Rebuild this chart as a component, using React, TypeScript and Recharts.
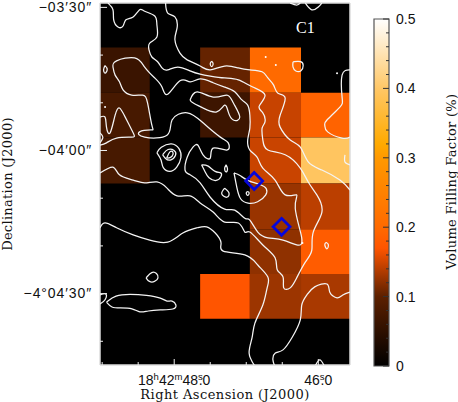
import { Bar, BarChart, CartesianGrid, ComposedChart, Label, ReferenceArea, ReferenceDot, Scatter, XAxis, YAxis } from 'recharts';

type Pair = [number, number];

// RA in seconds past 18h42m, Dec in arcsec relative to -4 deg
const raEdges = [49.04, 48.34, 47.64, 46.95, 46.24, 45.56];
const decEdges = [-218.4, -227.9, -237.3, -246.9, -256.5, -265.9, -275.3];

// volume filling factor, rows from north to south, columns from east to west
const fillRow1 = [0.063, null, 0.104, 0.2, null];
const fillRow2 = [0.077, null, 0.066, 0.146, 0.19];
const fillRow3 = [0.077, null, null, 0.147, 0.395];
const fillRow4 = [null, null, null, 0.126, 0.141];
const fillRow5 = [null, null, null, 0.122, 0.18];
const fillRow6 = [null, null, 0.17, 0.1275, 0.133];
const fillRows = [fillRow1, fillRow2, fillRow3, fillRow4, fillRow5, fillRow6];

const colorStops: [number, string][] = [
    [0, '#000000'],
    [0.1, '#5c2000'],
    [0.17, '#ff5500'],
    [0.2, '#ff6a00'],
    [0.3, '#ff9900'],
    [0.32, '#ffaa00'],
    [0.4, '#ffc766'],
    [0.5, '#ffffff'],
];

const contourA: Pair[] = [[48.92,-209.1],[48.85,-210.5],[48.84,-212.6],[48.78,-214.1],[48.71,-213.9],[48.67,-212.6],[48.57,-212.0],[48.48,-210.5],[48.41,-210.8],[48.27,-211.8],[48.24,-213.7],[48.24,-216.2],[48.34,-217.5],[48.35,-218.9],[48.31,-220.4],[48.23,-221.4],[48.17,-222.7],[48.09,-223.1],[47.95,-222.5],[47.78,-223.3],[47.64,-224.0],[47.50,-224.4],[47.30,-224.8],[47.11,-225.2],[46.91,-226.7],[46.74,-228.4],[46.82,-230.7],[46.77,-232.1],[46.74,-234.0],[46.78,-235.3],[46.77,-237.8],[46.70,-239.9],[46.46,-240.9],[46.25,-243.7],[46.14,-246.6],[46.02,-249.3],[45.95,-252.9],[46.07,-257.1],[46.09,-260.9],[46.18,-263.4],[46.30,-266.7],[46.39,-268.8],[46.48,-268.8],[46.49,-266.5],[46.57,-265.0],[46.60,-262.5],[46.77,-259.8],[46.95,-257.1],[47.02,-257.1],[47.11,-255.2],[47.30,-255.0],[47.46,-252.9],[47.64,-251.0],[47.78,-249.5],[47.96,-249.5],[48.10,-247.9],[48.24,-246.6],[48.41,-246.8],[48.57,-246.2],[48.76,-245.1],[48.85,-243.5],[49.03,-244.7]];
const contourB: Pair[] = [[48.12,-209.1],[48.09,-211.2],[47.99,-212.0],[47.96,-214.3],[47.99,-216.8],[47.92,-219.6],[47.82,-221.0],[47.64,-222.3],[47.50,-223.1],[47.30,-222.3],[47.11,-222.7],[46.95,-223.1],[46.78,-223.5],[46.70,-224.8],[46.62,-226.3],[46.56,-228.0],[46.46,-229.0],[46.53,-232.6],[46.53,-235.1],[46.39,-237.8],[46.25,-239.3],[46.14,-242.4],[45.95,-244.1],[45.70,-246.2],[45.56,-248.3]];
const contourWest: Pair[] = [[45.56,-223.1],[45.67,-224.2],[45.67,-228.8],[45.70,-230.9],[45.88,-233.6],[45.91,-234.7],[45.87,-236.1],[45.67,-237.4],[45.56,-237.2]];
const contourEdgeWest: Pair[] = [[45.63,-240.9],[45.63,-242.4],[45.56,-243.0]];
const contourEast: Pair[] = [[49.03,-233.0],[48.96,-233.0],[48.94,-235.1],[48.89,-236.3],[48.82,-232.6],[48.76,-231.1],[48.68,-233.0],[48.57,-236.3],[48.59,-237.2],[48.80,-237.4],[48.94,-238.4],[49.03,-238.9]];
const contourEdgeEast: Pair[] = [[49.03,-236.3],[48.99,-237.2],[49.03,-238.4]];
const contourSouth: Pair[] = [[49.03,-256.2],[48.96,-255.2],[48.80,-256.2],[48.57,-257.7],[48.34,-258.8],[48.09,-259.2],[47.88,-257.3],[47.68,-256.2],[47.55,-256.0],[47.43,-257.3],[47.35,-259.4],[47.32,-261.1],[47.02,-261.9],[46.84,-264.0],[46.70,-266.5],[46.71,-268.8],[46.77,-272.4],[46.88,-276.2],[46.92,-279.3],[46.96,-282.5],[46.88,-285.2]];
const contourSouthWest: Pair[] = [[46.60,-285.4],[46.63,-283.9],[46.60,-282.5],[46.49,-281.8],[46.36,-279.1],[46.25,-275.5],[46.23,-272.4],[46.16,-270.3],[46.05,-268.6],[45.88,-268.0],[45.84,-269.7],[45.74,-270.9],[45.66,-270.3],[45.56,-269.7]];
const contourBottomArc: Pair[] = [[46.05,-285.4],[45.98,-283.9],[45.91,-285.4]];
const contourTopArc1: Pair[] = [[46.18,-209.1],[46.09,-210.5],[46.00,-209.9],[45.95,-209.1]];
const contourTopArc2: Pair[] = [[46.39,-209.1],[46.30,-209.5],[46.25,-209.1]];
const contourEdgeSouth: Pair[] = [[49.03,-270.3],[48.95,-270.1],[48.96,-271.3],[49.03,-272.2]];

// closed contours
const loopMain: Pair[] = [[48.85,-222.5],[48.80,-221.2],[48.55,-220.6],[48.41,-222.5],[48.27,-224.8],[48.17,-226.7],[48.09,-228.2],[47.92,-225.4],[47.78,-225.6],[47.64,-225.0],[47.46,-225.8],[47.30,-226.7],[47.16,-227.7],[47.06,-229.4],[46.98,-230.5],[46.95,-232.6],[46.95,-235.3],[46.98,-237.8],[46.95,-239.9],[46.85,-241.4],[46.77,-243.7],[46.60,-246.2],[46.46,-249.3],[46.30,-249.3],[46.32,-252.1],[46.23,-258.3],[46.30,-259.8],[46.49,-258.8],[46.70,-258.3],[46.84,-257.1],[46.95,-254.6],[47.02,-254.2],[47.16,-252.5],[47.30,-252.3],[47.50,-249.8],[47.64,-246.8],[47.78,-245.1],[47.85,-244.1],[47.82,-241.4],[47.74,-239.3],[47.67,-238.9],[47.60,-240.9],[47.50,-241.6],[47.46,-239.5],[47.27,-239.9],[47.25,-238.4],[47.36,-237.2],[47.60,-234.2],[47.82,-232.1],[48.03,-233.6],[48.10,-236.8],[48.41,-237.2],[48.48,-236.1],[48.32,-235.7],[48.31,-234.7],[48.37,-230.0],[48.44,-228.4],[48.59,-228.4],[48.71,-227.3],[48.76,-225.6],[48.82,-224.2]];
const loopInner: Pair[] = [[47.78,-229.4],[47.68,-227.7],[47.46,-228.8],[47.27,-228.4],[47.18,-230.0],[47.09,-233.0],[47.18,-233.6],[47.25,-231.9],[47.30,-230.5],[47.41,-231.9],[47.60,-231.1],[47.74,-230.0]];
const loopPeakOuter: Pair[] = [[48.24,-240.5],[48.20,-239.3],[48.03,-238.2],[47.92,-239.5],[47.89,-241.4],[47.96,-243.7],[48.06,-244.7],[48.17,-243.7],[48.17,-242.0]];
const loopPeakMiddle: Pair[] = [[48.16,-240.9],[48.09,-239.5],[47.99,-239.9],[47.96,-240.9],[48.06,-242.4],[48.13,-241.6]];
const loopPeakInner: Pair[] = [[48.10,-241.4],[48.06,-240.3],[48.02,-240.3],[48.03,-241.2],[48.09,-241.6]];
const loopKnot: Pair[] = [[47.62,-243.0],[47.53,-243.0],[47.43,-244.7],[47.34,-244.5],[47.34,-245.5],[47.41,-246.6],[47.53,-245.8],[47.57,-244.5]];
const loopDiamond: Pair[] = [[47.17,-244.7],[47.09,-245.1],[46.99,-246.4],[46.78,-247.2],[46.71,-247.9],[46.71,-249.3],[46.84,-251.0],[46.98,-251.2],[47.09,-250.4],[47.13,-247.9]];
const loopSmall1: Pair[] = [[47.30,-247.9],[47.24,-248.9],[47.27,-249.8],[47.34,-249.1]];
const loopSmall2: Pair[] = [[47.28,-243.0],[47.26,-243.9],[47.28,-244.5],[47.30,-243.8]];
const loopSmall3: Pair[] = [[46.98,-248.6],[46.96,-248.9],[46.98,-249.4],[47.00,-248.9]];
const loopSmall4: Pair[] = [[47.48,-221.3],[47.46,-221.8],[47.48,-222.4],[47.50,-221.8]];
const loopSmall5: Pair[] = [[48.96,-222.2],[48.93,-223.0],[48.96,-223.8],[48.98,-223.0]];
const loopSmall6: Pair[] = [[45.89,-259.3],[45.86,-259.8],[45.88,-260.6],[45.91,-259.8]];
const loopBlob: Pair[] = [[48.39,-266.7],[48.31,-265.3],[48.24,-265.7],[48.21,-266.7],[48.27,-267.6],[48.35,-267.6]];
const loopLong: Pair[] = [[48.94,-271.8],[48.82,-270.3],[48.62,-270.1],[48.38,-270.3],[48.17,-270.9],[48.10,-271.8],[48.03,-271.3],[47.96,-272.4],[47.99,-273.4],[48.20,-273.4],[48.37,-273.6],[48.48,-274.1],[48.57,-273.0],[48.76,-273.0],[48.87,-273.0]];
const loopTopRight: Pair[] = [[46.35,-221.4],[46.23,-221.2],[46.20,-222.1],[46.23,-223.5],[46.32,-223.5],[46.36,-222.5]];

const openContours = [contourA, contourB, contourWest, contourEdgeWest, contourEast, contourEdgeEast, contourSouth, contourSouthWest, contourBottomArc, contourTopArc1, contourTopArc2, contourEdgeSouth];
const naturalLoops = [loopMain, loopInner, loopPeakInner, loopSmall1, loopSmall2, loopSmall3, loopSmall4, loopSmall5, loopSmall6];
const basisLoops = [loopPeakOuter, loopPeakMiddle, loopKnot, loopDiamond, loopBlob, loopLong, loopTopRight];

const specks: Pair[] = [[46.73,-220.4],[46.59,-222.1],[45.74,-223.8],[46.22,-259.4],[48.96,-230.9]];
const sources: Pair[] = [[46.89,-246.4],[46.51,-256.0]];

const raTicks = [49, 48.5, 48, 47.5, 47, 46.5, 46];
const raLabelled = [48, 46];
const decTicks = [-210, -220, -230, -240, -250, -260, -270, -280];
const decLabels: Record<number, string> = { [-210]: '\u221203\u203230\u2033', [-240]: '\u221204\u203200\u2033', [-270]: '\u22124\u00b004\u203230\u2033' };
const barTicks = [0, 0.02, 0.04, 0.06, 0.08, 0.1, 0.12, 0.14, 0.16, 0.18, 0.2, 0.22, 0.24, 0.26, 0.28, 0.3, 0.32, 0.34, 0.36, 0.38, 0.4, 0.42, 0.44, 0.46, 0.48, 0.5];
const barLabelled = [0, 0.1, 0.2, 0.3, 0.4, 0.5];
const barData = [{ name: 'fill', level: 0.5 }];

const SANS = '"Liberation Sans", Arial, sans-serif';
const SERIF = '"DejaVu Serif", serif';
const FRAME = '#dcdcdc';
const INK = '#111';
const CONTOUR = { stroke: '#f4f4f4', strokeWidth: 1.25 };

const hex = (c: string, i: number) => parseInt(c.slice(1 + i * 2, 3 + i * 2), 16);

const colorFor = (v: number) => {
    let k = 0;
    while (k < colorStops.length - 2 && v > colorStops[k + 1][0]) k++;
    const [v0, c0] = colorStops[k];
    const [v1, c1] = colorStops[k + 1];
    const t = (v - v0) / (v1 - v0);
    const ch = [0, 1, 2].map((i) => Math.round(hex(c0, i) + t * (hex(c1, i) - hex(c0, i))));
    return `rgb(${ch.join(',')})`;
};

const toPoints = (c: Pair[]) => c.map(([ra, dec]) => ({ ra, dec }));
const closeLoop = (c: Pair[]) => [...c, c[0]];

const NoMarker = () => null;
const Speck = (p: any) => <circle cx={p.cx} cy={p.cy} r={1} fill="#fff" />;
const Diamond = (p: any) => (
    <polygon
        points={`${p.cx},${p.cy - 8.5} ${p.cx + 8.5},${p.cy} ${p.cx},${p.cy + 8.5} ${p.cx - 8.5},${p.cy}`}
        fill="none"
        stroke="#0606dc"
        strokeWidth={2.7}
    />
);

const RaBottomTick = (p: any) => {
    const v = p.payload.value;
    const major = raLabelled.includes(v);
    return (
        <g>
            <line x1={p.x} x2={p.x} y1={p.y} y2={p.y - (major ? 6 : 3)} stroke="#eee" />
            {major && (
                <text x={p.x} y={p.y + 20} textAnchor="middle" fontFamily={SANS} fontSize={14} fill={INK}>
                    {v === 48 ? (
                        <>
                            18<tspan dy={-5} fontSize={9.5}>h</tspan>
                            <tspan dy={5}>42</tspan>
                            <tspan dy={-5} fontSize={9.5}>m</tspan>
                            <tspan dy={5}>48</tspan>
                            <tspan dy={-5} fontSize={9.5}>s</tspan>
                            <tspan dy={5} dx={-4}>.0</tspan>
                        </>
                    ) : (
                        <>
                            46<tspan dy={-5} fontSize={9.5}>s</tspan>
                            <tspan dy={5} dx={-4}>.0</tspan>
                        </>
                    )}
                </text>
            )}
        </g>
    );
};

const RaTopTick = (p: any) => <line x1={p.x} x2={p.x} y1={p.y} y2={p.y + (raLabelled.includes(p.payload.value) ? 6 : 3)} stroke="#eee" />;

const DecLeftTick = (p: any) => {
    const label = decLabels[p.payload.value];
    return (
        <g>
            <line x1={p.x} x2={p.x + (label ? 7 : 3)} y1={p.y} y2={p.y} stroke="#eee" />
            {label && (
                <text x={p.x - 8} y={p.y + 4.5} textAnchor="end" fontFamily={SANS} fontSize={14} letterSpacing={0.9} fill={INK}>
                    {label}
                </text>
            )}
        </g>
    );
};

const DecRightTick = (p: any) => <line x1={p.x} x2={p.x - (decLabels[p.payload.value] ? 7 : 3)} y1={p.y} y2={p.y} stroke="#eee" />;

const BarTick = (p: any) => {
    const v = p.payload.value;
    const major = barLabelled.includes(v);
    return (
        <g>
            <line x1={p.x} x2={p.x - (major ? 6 : 3)} y1={p.y} y2={p.y} stroke="#333" />
            {major && (
                <text x={p.x + 7} y={p.y + 5} fontFamily={SANS} fontSize={14} fill={INK}>
                    {v}
                </text>
            )}
        </g>
    );
};

const MainMap = () => (
    <ComposedChart width={458} height={402} margin={{ top: 0, right: 0, bottom: 0, left: 0 }}>
        <CartesianGrid fill="#000" horizontal={false} vertical={false} />
        <XAxis
            dataKey="ra"
            type="number"
            reversed
            domain={[45.56, 49.03]}
            ticks={raTicks}
            allowDataOverflow
            height={37}
            interval={0}
            tickSize={0}
            tickMargin={0}
            tickLine={false}
            tick={RaBottomTick}
            axisLine={{ stroke: FRAME, strokeWidth: 1.5 }}
        >
            <Label value="Right Ascension (J2000)" position="insideBottom" offset={3} fontFamily={SERIF} fontSize={13} letterSpacing={0.45} fill={INK} />
        </XAxis>
        <XAxis
            xAxisId="top"
            orientation="top"
            type="number"
            reversed
            domain={[45.56, 49.03]}
            ticks={raTicks}
            height={3}
            interval={0}
            tickSize={0}
            tickMargin={0}
            tickLine={false}
            tick={RaTopTick}
            axisLine={{ stroke: FRAME, strokeWidth: 1.5 }}
        />
        <YAxis
            dataKey="dec"
            type="number"
            domain={[-284.97, -209.08]}
            ticks={decTicks}
            allowDataOverflow
            width={100}
            interval={0}
            tickSize={0}
            tickMargin={0}
            tickLine={false}
            tick={DecLeftTick}
            axisLine={{ stroke: FRAME, strokeWidth: 1.5 }}
        >
            <Label value="Declination (J2000)" angle={-90} position="insideLeft" offset={7} fontFamily={SERIF} fontSize={13} letterSpacing={0.3} fill={INK} style={{ textAnchor: 'middle' }} />
        </YAxis>
        <YAxis
            yAxisId="right"
            orientation="right"
            type="number"
            domain={[-284.97, -209.08]}
            ticks={decTicks}
            width={108}
            interval={0}
            tickSize={0}
            tickMargin={0}
            tickLine={false}
            tick={DecRightTick}
            axisLine={{ stroke: FRAME, strokeWidth: 1.5 }}
        />
        {fillRows.map((row, r) =>
            row.map((v, c) =>
                v === null ? null : (
                    <ReferenceArea
                        key={`${r}-${c}`}
                        x1={raEdges[c]}
                        x2={raEdges[c + 1]}
                        y1={decEdges[r]}
                        y2={decEdges[r + 1]}
                        fill={colorFor(v)}
                        fillOpacity={1}
                        stroke="none"
                        ifOverflow="hidden"
                    />
                ),
            ),
        )}
        {openContours.map((c, i) => (
            <Scatter key={`open${i}`} data={toPoints(c)} line={CONTOUR} lineJointType="natural" shape={NoMarker} isAnimationActive={false} />
        ))}
        {naturalLoops.map((c, i) => (
            <Scatter key={`loop${i}`} data={toPoints(closeLoop(c))} line={CONTOUR} lineJointType="natural" shape={NoMarker} isAnimationActive={false} />
        ))}
        {basisLoops.map((c, i) => (
            <Scatter key={`soft${i}`} data={toPoints(closeLoop(c))} line={CONTOUR} lineJointType="basis" shape={NoMarker} isAnimationActive={false} />
        ))}
        <Scatter data={toPoints(specks)} shape={Speck} isAnimationActive={false} />
        <Scatter data={toPoints(sources)} shape={Diamond} isAnimationActive={false} />
        <ReferenceDot x={46.18} y={-214.1} r={0} fill="none" stroke="none">
            <Label value="C1" position="center" fontFamily='"Liberation Serif", serif' fontSize={16} fill="#fff" />
        </ReferenceDot>
    </ComposedChart>
);

const ColorBar = () => (
    <BarChart width={458} height={402} data={barData} margin={{ top: 19, right: 0, bottom: 36, left: 374 }} barCategoryGap={0}>
        <defs>
            <linearGradient id="fillFactor" x1="0" y1="1" x2="0" y2="0">
                {colorStops.map(([v, c]) => (
                    <stop key={v} offset={`${v * 200}%`} stopColor={c} />
                ))}
            </linearGradient>
        </defs>
        <XAxis dataKey="name" hide />
        <YAxis
            orientation="right"
            type="number"
            domain={[0, 0.5]}
            ticks={barTicks}
            width={69}
            interval={0}
            tickSize={0}
            tickMargin={0}
            tickLine={false}
            tick={BarTick}
            axisLine={false}
        >
            <Label value="Volume Filling Factor (%)" angle={-90} position="insideRight" offset={7} dy={-11} fontFamily={SERIF} fontSize={13} letterSpacing={0.3} fill={INK} style={{ textAnchor: 'middle' }} />
        </YAxis>
        <Bar dataKey="level" fill="url(#fillFactor)" stroke="#555" strokeWidth={1.2} isAnimationActive={false} />
    </BarChart>
);

export default function App() {
    return (
        <div style={{ position: 'absolute', left: 0, top: 0, width: 458, height: 402 }}>
            <div style={{ position: 'absolute', left: 0, top: 0 }}>
                <MainMap />
            </div>
            <div style={{ position: 'absolute', left: 0, top: 0 }}>
                <ColorBar />
            </div>
        </div>
    );
}
